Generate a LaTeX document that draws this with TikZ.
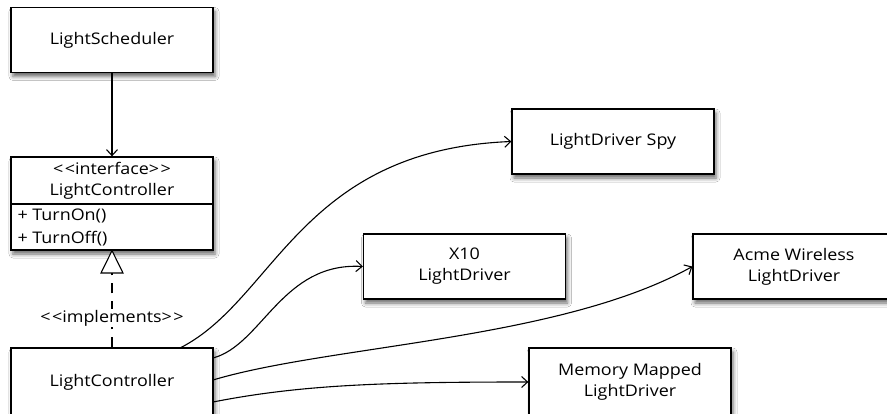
\documentclass[tikz,border=0pt]{standalone}
\usepackage{fontspec}
\setmainfont{Open Sans}[FakeStretch=1.12]
\usetikzlibrary{arrows.meta,shadows.blur}
\newcommand{\lt}{<\kern1.5pt<}
\newcommand{\gt}{>\kern1.5pt>}
\begin{document}
\begin{tikzpicture}[x=1pt,y=-1pt,
  every node/.style={font=\fontsize{16}{21}\selectfont},
  umlbox/.style={draw=black, line width=1.3pt, fill=white, rectangle,
    minimum width=202pt, minimum height=65pt, align=center, inner sep=0pt,
    blur shadow={shadow xshift=2pt, shadow yshift=-4pt, shadow blur radius=4pt, shadow opacity=60}},
  conn/.style={line width=1.1pt, -{Straight Barb[length=6pt,width=11pt,line width=1.1pt]}},
  impl/.style={line width=1.1pt, dash pattern=on 10pt off 8pt},
  lbl/.style={fill=white, inner sep=1pt}
]
\useasboundingbox (0,0) rectangle (887,414);
\fill[white] (0,0) rectangle (887,414);

\node[umlbox] (sched) at (112,40) {LightScheduler};
\node[umlbox, minimum height=93pt] (iface) at (112,203.5) {};
\draw[line width=1.1pt] (11,204) -- (213,204);
\node (ster) at (112,168) {\lt interface\gt};
\node (iname) at (112,191) {LightController};
\node[anchor=west] (on) at (14,216) {+ TurnOn()};
\node[anchor=west] (off) at (14,239) {+ TurnOff()};

\node[umlbox, minimum height=68pt] (ctrl) at (112,382) {LightController};
\node[umlbox] (spy) at (613,141.5) {LightDriver Spy};
\node[umlbox] (x10) at (464.5,266.5) {X10\\LightDriver};
\node[umlbox] (acme) at (794,266.5) {Acme Wireless\\LightDriver};
\node[umlbox, minimum height=68pt] (mem) at (630,382) {Memory Mapped\\LightDriver};

\draw[conn] (sched.south) -- (iface.north);

\coordinate (tribase) at (112,273);
\draw[impl] (ctrl.north) -- (tribase);
\draw[line width=1.1pt, fill=white] (iface.south) -- (101,273) -- (123,273) -- cycle;
\node[lbl] (implbl) at (112,318) {\lt implements\gt};

\draw[conn] (180,348) .. controls (275,300) and (300,150) .. (spy.west);
\draw[conn] (213,358) .. controls (262,345) and (282,262) .. (x10.west);
\draw[conn] (213,380) .. controls (330,345) and (560,340) .. (acme.west);
\draw[conn] (213,402) .. controls (300,385) and (380,382) .. (mem.west);
\end{tikzpicture}
\end{document}
